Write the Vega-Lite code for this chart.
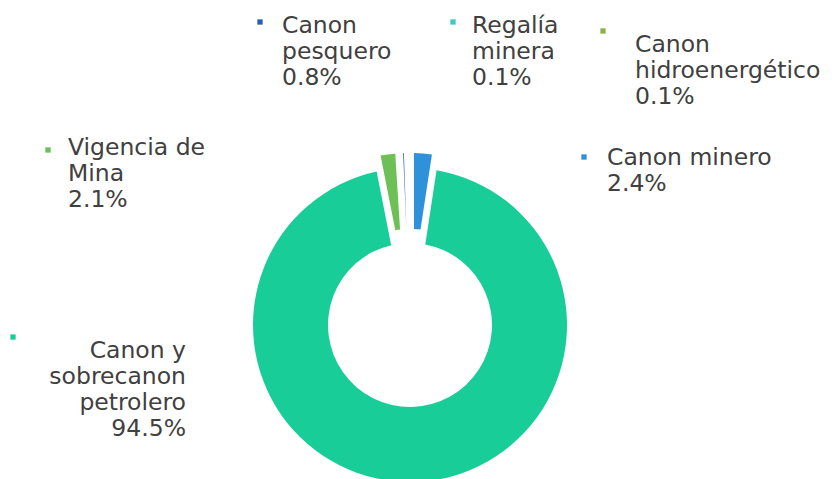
{
  "$schema": "https://vega.github.io/schema/vega-lite/v6.json",
  "width": 840,
  "height": 479,
  "autosize": "none",
  "padding": 0,
  "background": "white",
  "config": {
    "view": {"stroke": null},
    "axis": {"disable": true},
    "legend": {"disable": true},
    "text": {"font": "DejaVu Sans", "fontSize": 23.5, "lineHeight": 26, "lineBreak": "\n", "color": "#404040", "baseline": "alphabetic"}
  },
  "data": {
    "values": [
      {"cat": "Canon minero", "label": "Canon minero", "value": 2.4},
      {"cat": "Canon y sobrecanon petrolero", "label": "Canon y\nsobrecanon\npetrolero", "value": 94.5},
      {"cat": "Vigencia de Mina", "label": "Vigencia de\nMina", "value": 2.1},
      {"cat": "Canon pesquero", "label": "Canon\npesquero", "value": 0.8},
      {"cat": "Regalía minera", "label": "Regalía\nminera", "value": 0.1},
      {"cat": "Canon hidroenergético", "label": "Canon\nhidroenergético", "value": 0.1}
    ]
  },
  "transform": [
    {"window": [{"op": "row_number", "as": "idx"}]},
    {"stack": "value", "groupby": [], "sort": [{"field": "idx"}], "as": ["v0", "v1"]},
    {"calculate": "datum.label + '\\n' + format(datum.value, '.1f') + '%'", "as": "txt"}
  ],
  "layer": [
    {
      "transform": [{"filter": "datum.value > 50"}],
      "mark": {"type": "arc", "radius": 157, "radius2": 82, "padAngle": 0.034},
      "encoding": {
        "x": {"datum": 410, "type": "quantitative", "scale": {"domain": [0, 840], "nice": false, "zero": false}},
        "y": {"datum": 325, "type": "quantitative", "scale": {"domain": [0, 479], "reverse": true, "nice": false, "zero": false}},
        "theta": {"field": "v0", "type": "quantitative", "scale": {"domain": [0, 100]}},
        "theta2": {"field": "v1"},
        "color": {
          "field": "cat", "type": "nominal",
          "scale": {
            "domain": ["Canon minero", "Canon y sobrecanon petrolero", "Vigencia de Mina", "Canon pesquero", "Regalía minera", "Canon hidroenergético"],
            "range": ["#2E91DA", "#19CD98", "#6CC055", "#2A5BBF", "#3FC8C4", "#8FAF4A"]
          }
        }
      }
    },
    {
      "transform": [{"filter": "datum.value < 50"}],
      "mark": {"type": "arc", "radius": 172, "radius2": 96, "padAngle": 0.04},
      "encoding": {
        "x": {"datum": 410, "type": "quantitative"},
        "y": {"datum": 325, "type": "quantitative"},
        "theta": {"field": "v0", "type": "quantitative"},
        "theta2": {"field": "v1"},
        "color": {"field": "cat", "type": "nominal"}
      }
    },
    {
      "transform": [{"filter": "datum.cat === 'Canon pesquero'"}],
      "layer": [
        {"mark": {"type": "point", "shape": "square", "filled": true, "size": 28, "opacity": 1},
         "encoding": {"x": {"datum": 260, "type": "quantitative"}, "y": {"datum": 22, "type": "quantitative"}, "color": {"field": "cat", "type": "nominal"}}},
        {"mark": {"type": "text", "align": "left"},
         "encoding": {"x": {"datum": 282, "type": "quantitative"}, "y": {"datum": 33, "type": "quantitative"}, "text": {"field": "txt"}}}
      ]
    },
    {
      "transform": [{"filter": "datum.cat === 'Regalía minera'"}],
      "layer": [
        {"mark": {"type": "point", "shape": "square", "filled": true, "size": 28, "opacity": 1},
         "encoding": {"x": {"datum": 453, "type": "quantitative"}, "y": {"datum": 22, "type": "quantitative"}, "color": {"field": "cat", "type": "nominal"}}},
        {"mark": {"type": "text", "align": "left"},
         "encoding": {"x": {"datum": 472, "type": "quantitative"}, "y": {"datum": 33, "type": "quantitative"}, "text": {"field": "txt"}}}
      ]
    },
    {
      "transform": [{"filter": "datum.cat === 'Canon hidroenergético'"}],
      "layer": [
        {"mark": {"type": "point", "shape": "square", "filled": true, "size": 28, "opacity": 1},
         "encoding": {"x": {"datum": 603, "type": "quantitative"}, "y": {"datum": 31, "type": "quantitative"}, "color": {"field": "cat", "type": "nominal"}}},
        {"mark": {"type": "text", "align": "left"},
         "encoding": {"x": {"datum": 635, "type": "quantitative"}, "y": {"datum": 52, "type": "quantitative"}, "text": {"field": "txt"}}}
      ]
    },
    {
      "transform": [{"filter": "datum.cat === 'Canon minero'"}],
      "layer": [
        {"mark": {"type": "point", "shape": "square", "filled": true, "size": 28, "opacity": 1},
         "encoding": {"x": {"datum": 584, "type": "quantitative"}, "y": {"datum": 157, "type": "quantitative"}, "color": {"field": "cat", "type": "nominal"}}},
        {"mark": {"type": "text", "align": "left"},
         "encoding": {"x": {"datum": 607, "type": "quantitative"}, "y": {"datum": 165, "type": "quantitative"}, "text": {"field": "txt"}}}
      ]
    },
    {
      "transform": [{"filter": "datum.cat === 'Vigencia de Mina'"}],
      "layer": [
        {"mark": {"type": "point", "shape": "square", "filled": true, "size": 28, "opacity": 1},
         "encoding": {"x": {"datum": 48, "type": "quantitative"}, "y": {"datum": 150, "type": "quantitative"}, "color": {"field": "cat", "type": "nominal"}}},
        {"mark": {"type": "text", "align": "left"},
         "encoding": {"x": {"datum": 68, "type": "quantitative"}, "y": {"datum": 155, "type": "quantitative"}, "text": {"field": "txt"}}}
      ]
    },
    {
      "transform": [{"filter": "datum.cat === 'Canon y sobrecanon petrolero'"}],
      "layer": [
        {"mark": {"type": "point", "shape": "square", "filled": true, "size": 28, "opacity": 1},
         "encoding": {"x": {"datum": 13, "type": "quantitative"}, "y": {"datum": 337, "type": "quantitative"}, "color": {"field": "cat", "type": "nominal"}}},
        {"mark": {"type": "text", "align": "right"},
         "encoding": {"x": {"datum": 186, "type": "quantitative"}, "y": {"datum": 358, "type": "quantitative"}, "text": {"field": "txt"}}}
      ]
    }
  ]
}
